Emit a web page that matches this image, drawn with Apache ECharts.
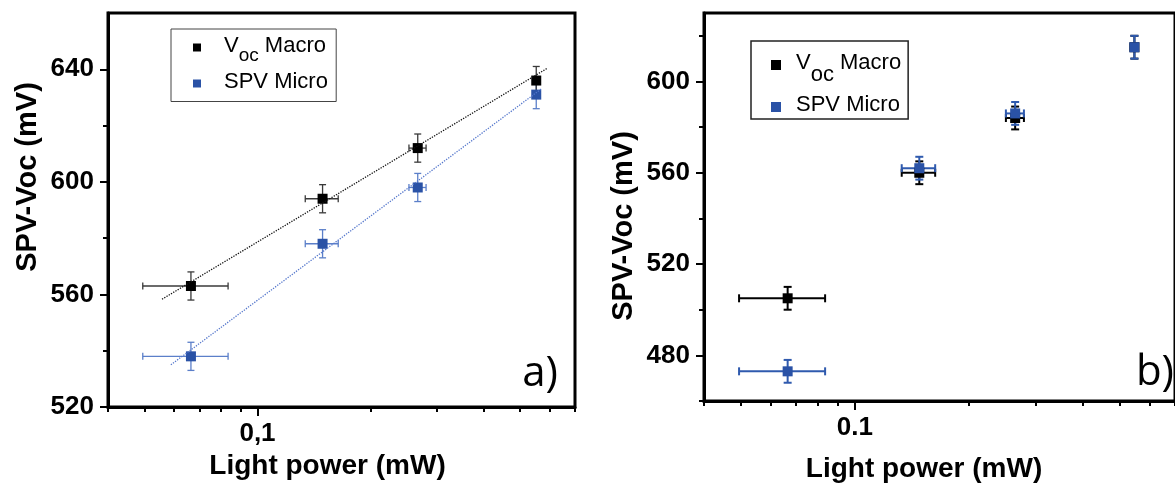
<!DOCTYPE html>
<html>
<head>
<meta charset="utf-8">
<script src="https://cdn.jsdelivr.net/npm/echarts@6/dist/echarts.min.js"></script>
<style>html,body{margin:0;padding:0;background:#fff}#c{width:1175px;height:488px}</style>
</head>
<body>
<div id="c"></div>
<script>
// ---------- data ----------
// Panel a)
const lightPowerA    = [0.0665, 0.149, 0.267, 0.552];
const lightPowerErrA = [0.017, 0.015, 0.014, 0.012];
const vocMacroA      = [563, 594, 612, 636];
const vocMacroErrA   = [5, 5, 5, 5];
const spvMicroA      = [538, 578, 598, 631];
const spvMicroErrA   = [5, 5, 5, 5];
const fitMacroA      = [[0.0557, 558.3], [0.5895, 640.3]];
const fitMicroA      = [[0.0588, 535.0], [0.5717, 633.2]];
// Panel b)
const lightPowerB    = [0.0665, 0.148, 0.265, 0.547];
const lightPowerErrB = [0.017, 0.015, 0.0145, 0.012];
const vocMacroB      = [505, 560, 584, 615];
const vocMacroErrB   = [5, 5, 5, 5];
const spvMicroB      = [473, 562, 586, 615];
const spvMicroErrB   = [5, 5, 5, 5];
// ticks
const xMajorTicks = [0.1];
const xMinorTicks = [0.04, 0.05, 0.06, 0.07, 0.08, 0.09, 0.2, 0.3, 0.4, 0.5, 0.6, 0.7];
const xLabelA = '0,1';
const xLabelB = '0.1';
const yMajorA = [520, 560, 600, 640];
const yMinorA = [540, 580, 620];
const yMajorB = [480, 520, 560, 600];
const yMinorB = [460, 500, 540, 580, 620];
const seriesNames = ['Voc Macro', 'SPV Micro'];
const xTitle = 'Light power (mW)';
const yTitle = 'SPV-Voc (mV)';

// ---------- helpers ----------
const L = v => Math.log10(v);
const FONT = 'Liberation Sans, Arial, sans-serif';
const X_MIN = 0.04, X_MAX = 0.7;

function xAxesFor(grid, label, nameGap, namePad) {
  const major = xMajorTicks.map(L);
  return [{
    type: 'value', gridIndex: grid, position: 'bottom', min: L(X_MIN), max: L(X_MAX),
    axisLine: {show: true, onZero: false, lineStyle: {color: '#000', width: 3}},
    axisTick: {show: true, customValues: major, length: 9, lineStyle: {color: '#000', width: 2}},
    axisLabel: {show: true, customValues: major, margin: 14, formatter: () => label,
      color: '#000', fontSize: 26, fontWeight: 'bold', fontFamily: FONT},
    splitLine: {show: false},
    name: xTitle, nameLocation: 'middle', nameGap: nameGap,
    nameTextStyle: {color: '#000', fontSize: 28, fontWeight: 'bold', fontFamily: FONT, padding: namePad}
  }, {
    type: 'value', gridIndex: grid, position: 'bottom', min: L(X_MIN), max: L(X_MAX),
    axisLine: {show: false, onZero: false},
    axisTick: {show: true, customValues: xMinorTicks.map(L), length: 5, lineStyle: {color: '#000', width: 2}},
    axisLabel: {show: false}, splitLine: {show: false}
  }];
}

function yAxesFor(grid, min, max, major, minor, namePad) {
  return [{
    type: 'value', gridIndex: grid, position: 'left', min: min, max: max,
    axisLine: {show: true, onZero: false, lineStyle: {color: '#000', width: 3}},
    axisTick: {show: true, customValues: major, length: 8, lineStyle: {color: '#000', width: 2}},
    axisLabel: {show: true, customValues: major, margin: 14,
      color: '#000', fontSize: 26, fontWeight: 'bold', fontFamily: FONT},
    splitLine: {show: false},
    name: yTitle, nameLocation: 'middle', nameGap: 66,
    nameTextStyle: {color: '#000', fontSize: 29, fontWeight: 'bold', fontFamily: FONT, padding: namePad}
  }, {
    type: 'value', gridIndex: grid, position: 'left', min: min, max: max,
    axisLine: {show: false, onZero: false},
    axisTick: {show: true, customValues: minor, length: 5, lineStyle: {color: '#000', width: 2}},
    axisLabel: {show: false}, splitLine: {show: false}
  }];
}

function scatterSeries(name, xi, yi, xs, ys, color) {
  return {
    name: name, type: 'scatter', xAxisIndex: xi, yAxisIndex: yi,
    symbol: 'rect', symbolSize: 10, itemStyle: {color: color, opacity: 1},
    emphasis: {disabled: true}, silent: true,
    data: xs.map((x, i) => [L(x), ys[i]])
  };
}

function errorSeries(xi, yi, xs, xe, ys, ye, color, width, cap) {
  return {
    type: 'custom', xAxisIndex: xi, yAxisIndex: yi, silent: true,
    data: xs.map((x, i) => [L(x), ys[i], L(x - xe[i]), L(x + xe[i]), ys[i] - ye[i], ys[i] + ye[i]]),
    encode: {x: [0, 2, 3], y: [1, 4, 5]},
    renderItem: (params, api) => {
      const l = api.coord([api.value(2), api.value(1)]);
      const r = api.coord([api.value(3), api.value(1)]);
      const b = api.coord([api.value(0), api.value(4)]);
      const t = api.coord([api.value(0), api.value(5)]);
      const style = {stroke: color, lineWidth: width, fill: null};
      const h = cap / 2;
      const ln = (x1, y1, x2, y2) => ({type: 'line', shape: {x1, y1, x2, y2}, style});
      return {type: 'group', children: [
        ln(l[0], l[1], r[0], r[1]),
        ln(l[0], l[1] - h, l[0], l[1] + h),
        ln(r[0], r[1] - h, r[0], r[1] + h),
        ln(b[0], b[1], t[0], t[1]),
        ln(b[0] - h, b[1], b[0] + h, b[1]),
        ln(t[0] - h, t[1], t[0] + h, t[1])
      ]};
    }
  };
}

function fitSeries(xi, yi, pts, color) {
  return {
    type: 'line', xAxisIndex: xi, yAxisIndex: yi, silent: true, symbol: 'none',
    lineStyle: {type: 'dotted', width: 1.3, color: color},
    data: pts.map(p => [L(p[0]), p[1]])
  };
}

const BLACK = '#000000', BLUE = '#2A52A6';

const option = {
  animation: false,
  backgroundColor: '#ffffff',
  grid: [
    {left: 108, top: 13, width: 467, height: 394, show: true, borderColor: '#000', borderWidth: 3},
    {left: 704, top: 13, width: 509, height: 394, show: true, borderColor: '#000', borderWidth: 3}
  ],
  xAxis: [].concat(
    xAxesFor(0, xLabelA, 40, [0, 28, 0, 0]),
    xAxesFor(1, xLabelB, 54, [0, 31, 0, 0])
  ),
  yAxis: [].concat(
    yAxesFor(0, 520, 660, yMajorA, yMinorA, [0, 0, 0, 66]),
    yAxesFor(1, 460, 630, yMajorB, yMinorB, [0, 38, 0, 0])
  ),
  legend: [{
    left: 171, top: 29, orient: 'vertical', icon: 'rect', itemWidth: 8, itemHeight: 8, itemGap: 5,
    padding: [5.5, 3, 0, 22], borderColor: '#444', borderWidth: 1, selectedMode: false,
    data: seriesNames,
    formatter: n => n === seriesNames[0] ? '{g| }{m|V}{s|oc}{m| Macro}' : '{g| }{m|SPV Micro}{s| }',
    textStyle: {color: '#000', fontFamily: FONT, fontSize: 22, rich: {
      g: {width: 18},
      m: {fontSize: 22, lineHeight: 26, verticalAlign: 'top', fontFamily: FONT, color: '#000'},
      s: {fontSize: 19, lineHeight: 19, padding: [12, 0, 0, 0], verticalAlign: 'top', fontFamily: FONT, color: '#000'}
    }}
  }, {
    left: 751, top: 41, orient: 'vertical', icon: 'rect', itemWidth: 10, itemHeight: 10, itemGap: 8,
    padding: [11, 7, 1, 20], borderColor: '#222', borderWidth: 1.5, selectedMode: false,
    data: seriesNames,
    formatter: n => n === seriesNames[0] ? '{g| }{m|V}{s|oc}{m| Macro}' : '{g| }{m|SPV Micro}',
    textStyle: {color: '#000', fontFamily: FONT, fontSize: 22, rich: {
      g: {width: 10},
      m: {fontSize: 22, lineHeight: 26, verticalAlign: 'top', fontFamily: FONT, color: '#000'},
      s: {fontSize: 22, lineHeight: 22, padding: [12, 0, 0, 0], verticalAlign: 'top', fontFamily: FONT, color: '#000'}
    }}
  }],
  graphic: [
    {type: 'text', left: null, style: {text: 'a)', x: 558, y: 374, align: 'right', verticalAlign: 'middle',
      font: '42px "Open Sans", sans-serif', fill: '#000'}},
    {type: 'text', style: {text: 'b)', x: 1174, y: 373, align: 'right', verticalAlign: 'middle',
      font: '42px "Open Sans", sans-serif', fill: '#000'}}
  ],
  series: [
    // panel a
    fitSeries(0, 0, fitMacroA, '#111'),
    fitSeries(0, 0, fitMicroA, '#5577cc'),
    scatterSeries(seriesNames[1], 0, 0, lightPowerA, spvMicroA, BLUE),
    scatterSeries(seriesNames[0], 0, 0, lightPowerA, vocMacroA, BLACK),
    errorSeries(0, 0, lightPowerA, lightPowerErrA, spvMicroA, spvMicroErrA, '#5b7fc9', 1.3, 7),
    errorSeries(0, 0, lightPowerA, lightPowerErrA, vocMacroA, vocMacroErrA, '#3a3a3a', 1.3, 7),
    // panel b
    scatterSeries(seriesNames[0], 2, 2, lightPowerB, vocMacroB, BLACK),
    scatterSeries(seriesNames[1], 2, 2, lightPowerB, spvMicroB, BLUE),
    errorSeries(2, 2, lightPowerB, lightPowerErrB, vocMacroB, vocMacroErrB, '#000', 2, 8),
    errorSeries(2, 2, lightPowerB, lightPowerErrB, spvMicroB, spvMicroErrB, '#2f5aae', 2, 8)
  ]
};

const chart = echarts.init(document.getElementById('c'), null, {renderer: 'canvas'});
chart.setOption(option);
</script>
</body>
</html>
